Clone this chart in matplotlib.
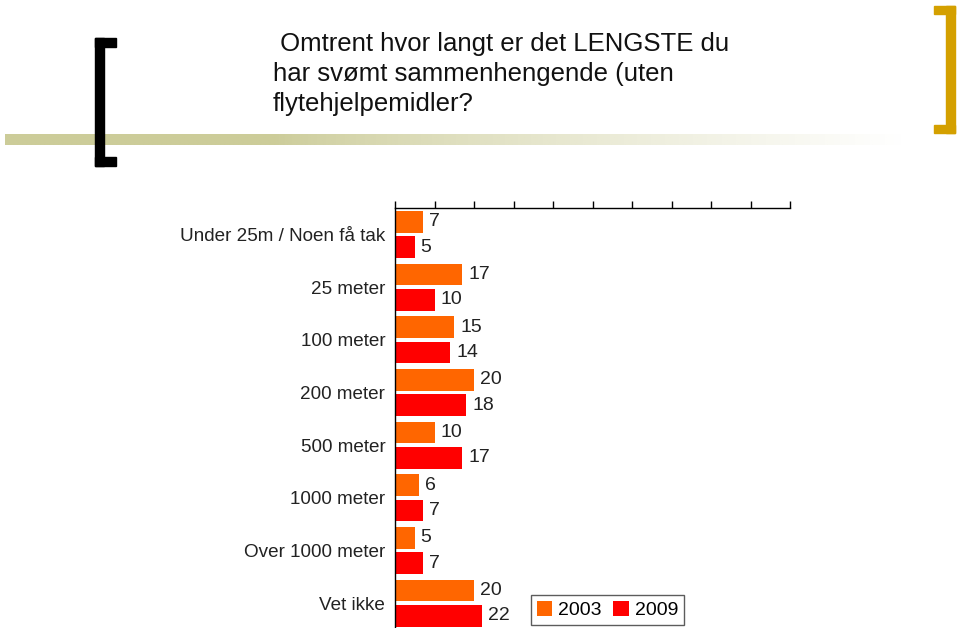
import numpy as np
import matplotlib
matplotlib.use("Agg")
import matplotlib.pyplot as plt
from matplotlib.patches import Rectangle

plt.rcParams['font.family'] = ['Liberation Sans', 'DejaVu Sans']

categories = ["Under 25m / Noen få tak", "25 meter", "100 meter", "200 meter",
              "500 meter", "1000 meter", "Over 1000 meter", "Vet ikke"]
v2003 = [7, 17, 15, 20, 10, 6, 5, 20]
v2009 = [5, 10, 14, 18, 17, 7, 7, 22]
series = ["2003", "2009"]
colors = ["#FF6600", "#FF0000"]

W, H = 960, 628
fig = plt.figure(figsize=(W / 100, H / 100), dpi=100)

# decorations in pixel coordinates
deco = fig.add_axes([0, 0, 1, 1])
deco.set_xlim(0, W)
deco.set_ylim(H, 0)
deco.axis("off")

# olive band fading to white
n = 400
grad = np.ones((1, n, 4))
grad[0, :, 0] = 0xCC / 255
grad[0, :, 1] = 0xCC / 255
grad[0, :, 2] = 0x99 / 255
t = np.linspace(0, 1, n)
grad[0, :, 3] = np.clip(1.0 - np.clip((t - 0.3) / 0.7, 0, 1) ** 0.8, 0, 1)
deco.imshow(grad, extent=[5, 905, 145, 134], aspect="auto", zorder=1)

# black bracket
for x0, y0, w, h in [(95, 38, 9, 128), (95, 38, 21, 9), (95, 157, 21, 9)]:
    deco.add_patch(Rectangle((x0, y0), w, h, color="black", zorder=2))
# gold bracket
for x0, y0, w, h in [(946, 6, 9, 127), (934, 6, 21, 8), (934, 125, 21, 8)]:
    deco.add_patch(Rectangle((x0, y0), w, h, color="#D4A000", zorder=2))

title_lines = [(" Omtrent hvor langt er det LENGSTE du", 273, 51),
               ("har svømt sammenhengende (uten", 273, 81),
               ("flytehjelpemidler?", 273, 111)]
for txt, x, y in title_lines:
    deco.text(x, y, txt, fontsize=18.5, color="#111111", va="baseline", ha="left")

# bar chart
ax = fig.add_axes([395 / W, 1 - 627 / H, (790 - 395) / W, (627 - 208) / H])
y = np.arange(len(categories))
off = 0.24
bh = 0.41
ax.barh(y - off, v2003, height=bh, color=colors[0], label=series[0])
ax.barh(y + off, v2009, height=bh, color=colors[1], label=series[1])
for i in range(len(categories)):
    ax.text(v2003[i] + 1.5, y[i] - off, str(v2003[i]), va="center", ha="left",
            fontsize=14, color="#222222")
    ax.text(v2009[i] + 1.5, y[i] + off, str(v2009[i]), va="center", ha="left",
            fontsize=14, color="#222222")

ax.set_xlim(0, 100)
ax.set_ylim(7.45, -0.5)
ax.set_xticks(np.arange(0, 101, 10))
ax.xaxis.tick_top()
ax.tick_params(axis="x", direction="out", length=5, width=1, labeltop=False)
ax.set_yticks(y)
ax.set_yticklabels(categories, fontsize=13.6, color="#222222")
ax.tick_params(axis="y", length=0, pad=7)
ax.spines["right"].set_visible(False)
ax.spines["bottom"].set_visible(False)
ax.spines["top"].set_linewidth(1)
ax.spines["left"].set_linewidth(1)
ax.patch.set_alpha(0)

fig.legend(loc="center", bbox_to_anchor=((533 + 682) / 2 / W, 1 - 610 / H),
           ncol=2, frameon=True, fancybox=False, edgecolor="#333333",
           fontsize=14, handlelength=0.8, handleheight=0.8, handletextpad=0.3,
           columnspacing=0.6, borderpad=0.3, borderaxespad=0)

fig.savefig("out.png", dpi=100)
